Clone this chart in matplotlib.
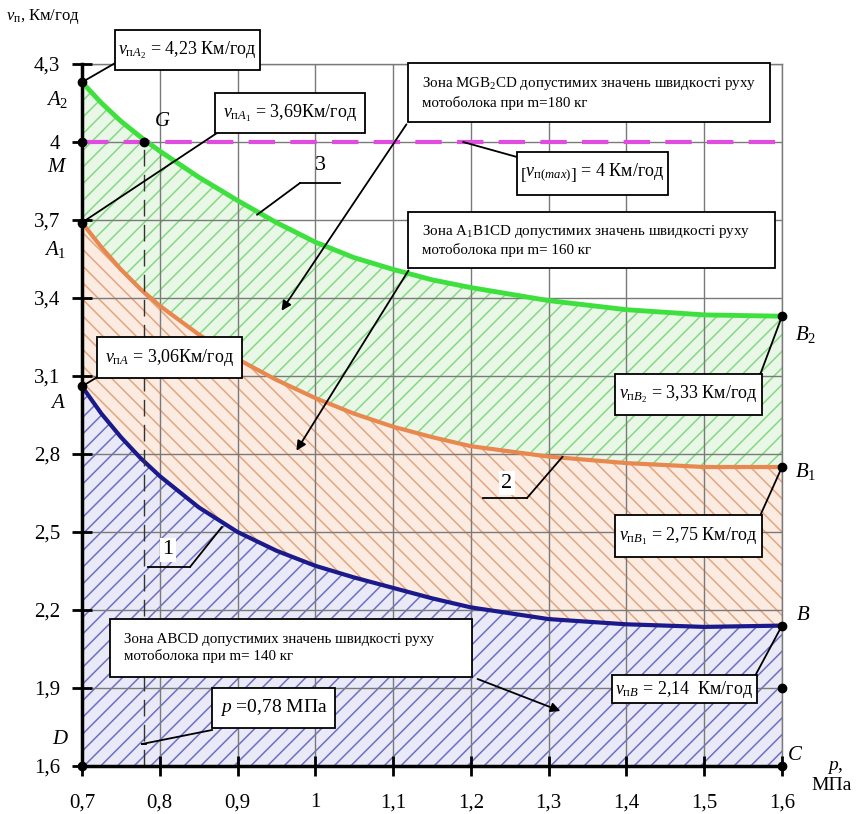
import numpy as np
import matplotlib
matplotlib.use('Agg')
import matplotlib.pyplot as plt
from matplotlib.patches import Rectangle, ConnectionPatch, FancyArrowPatch
from matplotlib.lines import Line2D

plt.rcParams['font.family'] = ['Liberation Serif', 'DejaVu Serif']
plt.rcParams['mathtext.fontset'] = 'custom'
plt.rcParams['mathtext.rm'] = 'Liberation Serif'
plt.rcParams['mathtext.it'] = 'Liberation Serif:italic'
plt.rcParams['mathtext.bf'] = 'Liberation Serif:bold'
plt.rcParams['hatch.linewidth'] = 1.1
plt.rcParams['lines.scale_dashes'] = False

# pressure p, MPa
p = [0.7, 0.725, 0.75, 0.775, 0.8, 0.85, 0.9, 0.95, 1.0, 1.05, 1.1, 1.15, 1.2, 1.3, 1.4, 1.5, 1.6]
# speed, km/h: curve 1 (m=140 kg), 2 (m=160 kg), 3 (m=180 kg)
v1 = [3.06, 2.955, 2.865, 2.785, 2.715, 2.595, 2.5, 2.428, 2.37, 2.325, 2.285, 2.245, 2.21, 2.165, 2.145, 2.135, 2.14]
v2 = [3.69, 3.595, 3.51, 3.435, 3.37, 3.26, 3.165, 3.085, 3.015, 2.955, 2.905, 2.865, 2.83, 2.79, 2.765, 2.75, 2.75]
v3 = [4.23, 4.15, 4.08, 4.02, 3.965, 3.865, 3.775, 3.69, 3.615, 3.555, 3.51, 3.47, 3.44, 3.39, 3.355, 3.335, 3.33]
v_max = 4.0
p_g = 0.78

xticks = [0.7, 0.8, 0.9, 1.0, 1.1, 1.2, 1.3, 1.4, 1.5, 1.6]
xlabels = ['0,7', '0,8', '0,9', '1', '1,1', '1,2', '1,3', '1,4', '1,5', '1,6']
yticks = [1.6, 1.9, 2.2, 2.5, 2.8, 3.1, 3.4, 3.7, 4.0, 4.3]
ylabels = ['1,6', '1,9', '2,2', '2,5', '2,8', '3,1', '3,4', '3,7', '4', '4,3']

W, H = 859, 814
fig = plt.figure(figsize=(W / 100, H / 100), dpi=100)
ax = fig.add_axes([82 / W, 1 - 766 / H, 700 / W, 702 / H])


def fp(x, y):
    return (x / W, 1 - y / H)


# zones
ax.fill_between(p, 1.6, v1, facecolor='#e9e9f7', edgecolor='#6d70c4', hatch='//', lw=0, zorder=1)
ax.fill_between(p, v1, v2, facecolor='#fcebe0', edgecolor='#e2a582', hatch='\\\\', lw=0, zorder=1)
ax.fill_between(p, v2, v3, facecolor='#e8f7e6', edgecolor='#86d886', hatch='//', lw=0, zorder=1)

ax.plot(p, v1, color='#1a1a8c', lw=3, zorder=4)
ax.plot(p, v2, color='#e8874e', lw=3, zorder=4)
ax.plot(p, v3, color='#3ee03e', lw=3.5, zorder=4)

ax.axhline(v_max, color='#e04ce0', lw=3, dashes=(19, 11), zorder=4)
ax.plot([p_g, p_g], [1.6, v_max], color='#333333', lw=1, dashes=(12, 6), zorder=4)

# points
pts_x = [0.7, 0.7, 0.7, 0.7, 0.7, p_g, 1.6, 1.6, 1.6, 1.6, 1.6]
pts_y = [v3[0], v_max, v2[0], v1[0], 1.6, v_max, v3[-1], v2[-1], v1[-1], 1.9, 1.6]
ax.plot(pts_x, pts_y, 'o', color='black', ms=6, clip_on=False, zorder=6)

ax.set_xlim(0.7, 1.6)
ax.set_ylim(1.6, 4.3)
ax.set_xticks(xticks)
ax.set_xticklabels(xlabels)
ax.set_yticks(yticks)
ax.set_yticklabels(ylabels)
ax.tick_params(direction='inout', length=15, width=2, labelsize=15, color='black')
ax.tick_params(axis='x', pad=12)
ax.tick_params(axis='y', pad=8)
ax.set_axisbelow(False)
ax.grid(color='#7a7a7a', lw=1, zorder=2)
for s in ['left', 'bottom']:
    ax.spines[s].set_linewidth(2.5)
    ax.spines[s].set_zorder(5)
for s in ['top', 'right']:
    ax.spines[s].set_color('#7a7a7a')
    ax.spines[s].set_linewidth(1)

# axis titles
fig.text(*fp(6, 17), r'$v_{\mathrm{п}}$, Км/год', fontsize=12, va='center')
fig.text(*fp(835, 768), r'$p$,', fontsize=14, ha='center', va='center')
fig.text(*fp(832, 786), 'МПа', fontsize=14, ha='center', va='center')

# point letters
for s, x, y in [(r'$A_2$', 57, 100), (r'$M$', 57, 167), (r'$A_1$', 55, 250), (r'$A$', 58, 403),
                (r'$D$', 60, 740), (r'$G$', 162, 121), (r'$B_2$', 806, 335), (r'$B_1$', 806, 472),
                (r'$B$', 803, 615), (r'$C$', 795, 755)]:
    fig.text(*fp(x, y), s, fontsize=15, ha='center', va='center')


def box(x0, y0, x1, y1, text, size=13, ha='left', pad=6):
    fig.add_artist(Rectangle(fp(x0, y1), (x1 - x0) / W, (y1 - y0) / H, transform=fig.transFigure,
                             fc='white', ec='black', lw=1.3, zorder=3))
    tx = x0 + pad if ha == 'left' else (x0 + x1) / 2
    fig.text(*fp(tx, (y0 + y1) / 2), text, fontsize=size, ha=ha, va='center', zorder=4,
             linespacing=1.3)


def leader(xy_px, xy_data, arrow=False):
    fig.add_artist(ConnectionPatch(fp(*xy_px), xy_data, coordsA=fig.transFigure, coordsB=ax.transData,
                                   arrowstyle='-|>' if arrow else '-', mutation_scale=14,
                                   lw=1.3, color='black', zorder=2.5))


def line_px(a, b, arrow=False):
    if arrow:
        fig.add_artist(FancyArrowPatch(fp(*a), fp(*b), transform=fig.transFigure, arrowstyle='-|>',
                                       mutation_scale=14, lw=1.3, color='black', zorder=2.5))
    else:
        fig.add_artist(Line2D([a[0] / W, b[0] / W], [1 - a[1] / H, 1 - b[1] / H],
                              transform=fig.transFigure, lw=1.3, color='black', zorder=2.5))


# value boxes
box(115, 30, 260, 70, r'$v_{\mathrm{п}A_2}$ = 4,23 Км/год', ha='center')
leader((117, 62), (0.7, v3[0]))
box(215, 93, 365, 133, r'$v_{\mathrm{п}A_1}$ = 3,69Км/год', ha='center')
leader((220, 131), (0.7, v2[0]))
box(97, 337, 242, 378, r'$v_{\mathrm{п}A}$ = 3,06Км/год', ha='center')
leader((99, 376), (0.7, v1[0]))
box(615, 374, 762, 415, r'$v_{\mathrm{п}B_2}$ = 3,33 Км/год', ha='center')
leader((760, 375), (1.6, v3[-1]))
box(615, 515, 762, 557, r'$v_{\mathrm{п}B_1}$ = 2,75 Км/год', ha='center')
leader((760, 516), (1.6, v2[-1]))
box(612, 675, 757, 703, r'$v_{\mathrm{п}B}$ = 2,14  Км/год', ha='center')
leader((755, 676), (1.6, v1[-1]))
box(517, 152, 668, 195, r'$\left[v_{\mathrm{п}(max)}\right]$ = 4 Км/год', ha='center')
leader((517, 157), (1.19, v_max))
box(212, 688, 335, 728, r'$p$ =0,78 МПа', ha='center', size=14)
line_px((212, 730), (142, 744))
line_px((142, 744), (146, 744))

# zone boxes
box(408, 63, 770, 122, 'Зона MGB$_2$CD допустимих значень швидкості руху\nмотоболока при m=180 кг',
    size=10.8, pad=14)
line_px((408, 122), (280, 313), arrow=True)
box(408, 212, 775, 268, 'Зона A$_1$B1CD допустимих значень швидкості руху\nмотоболока при m= 160 кг',
    size=10.8, pad=14)
line_px((410, 268), (295, 453), arrow=True)
box(110, 619, 472, 677, 'Зона ABCD допустимих значень швидкості руху\nмотоболока при m= 140 кг',
    size=10.8, pad=14)
line_px((475, 678), (563, 712), arrow=True)

# curve numbers
fig.text(*fp(320, 165), '3', fontsize=16, ha='center', va='center')
line_px((300, 183), (340, 183))
leader((300, 183), (0.925, 3.72))
fig.text(*fp(507, 483), '2', fontsize=16, ha='center', va='center',
         bbox=dict(fc='white', ec='none', pad=2), zorder=4)
line_px((483, 498), (527, 498))
leader((527, 498), (1.318, 2.79))
fig.text(*fp(168, 550), '1', fontsize=16, ha='center', va='center',
         bbox=dict(fc='white', ec='none', pad=2), zorder=4)
line_px((148, 567), (190, 567))
leader((190, 567), (0.88, 2.52))

fig.savefig('out.png', dpi=100)
